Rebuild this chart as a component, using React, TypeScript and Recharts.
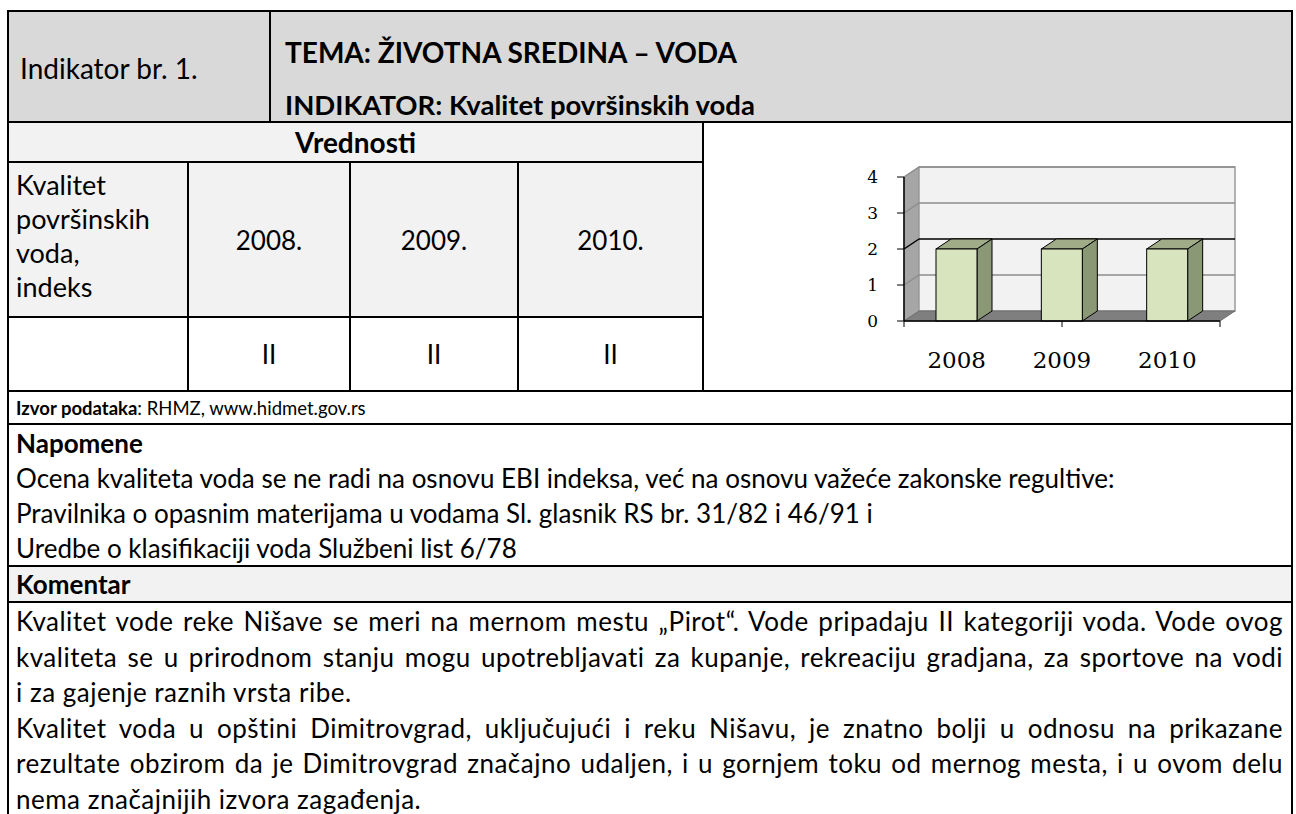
import React from 'react';
import { BarChart, Bar, XAxis, YAxis, CartesianGrid } from 'recharts';

// chart values
const years = ['2008', '2009', '2010'];
const qualityIndex = [2, 2, 2];
const yTicks = [0, 1, 2, 3, 4];
const bandEdges = [0, 1, 2, 3];
const gridValues = [0, 1, 2, 3, 4];
const gridColors = ['none', '#8c8c8c', '#000000', '#8c8c8c', '#8c8c8c'];

// table texts
const tableYears = ['2008.', '2009.', '2010.'];
const tableClasses = ['II', 'II', 'II'];
const rowLabel = ['Kvalitet', 'površinskih', 'voda,', 'indeks'];
const notes = [
    'Ocena kvaliteta voda se ne radi na osnovu EBI indeksa, već na osnovu važeće zakonske regultive:',
    'Pravilnika o opasnim materijama u vodama Sl. glasnik RS br. 31/82 i 46/91 i',
    'Uredbe o klasifikaciji voda Službeni list 6/78',
];
const commentLines = [
    'Kvalitet vode reke Nišave se meri na mernom mestu „Pirot“. Vode pripadaju II kategoriji voda. Vode ovog',
    'kvaliteta se u prirodnom stanju mogu upotrebljavati za kupanje, rekreaciju gradjana, za sportove na vodi',
    'i za gajenje raznih vrsta ribe.',
    'Kvalitet voda u opštini Dimitrovgrad, uključujući i reku Nišavu, je znatno bolji u odnosu na prikazane',
    'rezultate obzirom da je Dimitrovgrad značajno udaljen, i u gornjem toku od mernog mesta, i u ovom delu',
    'nema značajnijih izvora zagađenja.',
];
const lastOfParagraph = [false, false, true, false, false, true];

const chartData = years.map((y, i) => ({ year: y, value: qualityIndex[i] }));

const DX = 15;
const DY = -10;
const FONT = 'Lato, "Open Sans", sans-serif';
const SERIF = '"DejaVu Serif", serif';

// walls of the 3d plot box, drawn from the grid's plot rectangle
const walls = (x: number, y: number, w: number, h: number) => (
    <g>
        <polygon
            points={`${x},${y} ${x + DX},${y + DY} ${x + DX},${y + h + DY} ${x},${y + h}`}
            fill="#a6a6a6"
            stroke="#8c8c8c"
        />
        <rect x={x + DX} y={y + DY} width={w} height={h} fill="#f2f2f2" stroke="#9a9a9a" strokeWidth={1.5} />
        <polygon
            points={`${x},${y + h} ${x + DX},${y + h + DY} ${x + w + DX},${y + h + DY} ${x + w},${y + h}`}
            fill="#7f7f7f"
            stroke="#6f6f6f"
        />
    </g>
);

const gridLine = (p: any) => {
    const color = gridColors[p.index] ?? '#8c8c8c';
    return (
        <g key={p.key}>
            {p.index === 0 ? walls(p.x, p.y, p.width, p.height) : null}
            {color !== 'none' ? (
                <>
                    <line x1={p.x1} y1={p.y1} x2={p.x1 + DX} y2={p.y1 + DY} stroke={color} strokeWidth={1.5} />
                    <line x1={p.x1 + DX} y1={p.y1 + DY} x2={p.x2 + DX} y2={p.y2 + DY} stroke={color} strokeWidth={1.5} />
                </>
            ) : null}
        </g>
    );
};

const Box = (p: any) => {
    const { x, y, width: w, height: h } = p;
    return (
        <g>
            <polygon
                points={`${x},${y} ${x + DX},${y + DY} ${x + w + DX},${y + DY} ${x + w},${y}`}
                fill="#a0ab87"
                stroke="#000"
                strokeWidth={1}
            />
            <polygon
                points={`${x + w},${y} ${x + w + DX},${y + DY} ${x + w + DX},${y + h + DY} ${x + w},${y + h}`}
                fill="#8b9875"
                stroke="#000"
                strokeWidth={1}
            />
            <rect x={x} y={y} width={w} height={h} fill="#d7e4bd" stroke="#000" strokeWidth={1} />
        </g>
    );
};

const QualityChart = () => (
    <BarChart
        width={585}
        height={265}
        data={chartData}
        margin={{ top: 53, right: 70, bottom: 20, left: 139 }}
    >
        <CartesianGrid
            xAxisId="a_edge"
            vertical={false}
            horizontalValues={gridValues}
            horizontal={gridLine}
        />
        <XAxis
            xAxisId="a_edge"
            type="number"
            domain={[0, 3]}
            ticks={bandEdges}
            tickFormatter={() => ''}
            tickSize={6}
            height={8}
            axisLine={{ stroke: '#000', strokeWidth: 1.5 }}
            tickLine={{ stroke: '#000' }}
        />
        <XAxis
            xAxisId="b_cat"
            dataKey="year"
            height={40}
            tickSize={0}
            tickMargin={23}
            axisLine={false}
            tickLine={false}
            tick={{ fontFamily: SERIF, fontSize: 23, fill: '#000' }}
        />
        <YAxis
            domain={[0, 4]}
            ticks={yTicks}
            width={60}
            tickSize={7}
            tickMargin={19}
            axisLine={{ stroke: '#000', strokeWidth: 1.5 }}
            tickLine={{ stroke: '#000' }}
            tick={{ fontFamily: SERIF, fontSize: 17, fill: '#000' }}
        />
        <Bar xAxisId="b_cat" dataKey="value" barSize={41} shape={Box} isAnimationActive={false} />
    </BarChart>
);

const H = (x1: number, x2: number, y: number, w = 2) => (
    <div style={{ position: 'absolute', left: x1, top: y - w / 2, width: x2 - x1, height: w, background: '#000' }} />
);
const V = (x: number, y1: number, y2: number, w = 2) => (
    <div style={{ position: 'absolute', left: x - w / 2, top: y1, width: w, height: y2 - y1, background: '#000' }} />
);

const T = (props: { x: number; y: number; w?: number; size?: number; bold?: boolean; center?: boolean; children: React.ReactNode; lh?: number }) => (
    <div
        style={{
            position: 'absolute',
            left: props.x,
            top: props.y - (props.lh ?? 36) / 2,
            width: props.w,
            lineHeight: `${props.lh ?? 36}px`,
            fontSize: props.size ?? 26,
            fontWeight: props.bold ? 700 : 400,
            textAlign: props.center ? 'center' : 'left',
            whiteSpace: 'nowrap',
        }}
    >
        {props.children}
    </div>
);

const L = 8;
const R = 1292;
const TOP = 11;
const HEAD_B = 122;
const VRED_B = 162;
const YEAR_B = 317;
const VAL_B = 391;
const SRC_B = 424;
const NOTE_B = 566;
const COM_B = 602;
const colX = [8, 188, 350, 518, 703];

export default function App() {
    return (
        <div
            style={{
                position: 'absolute',
                left: 0,
                top: 0,
                width: 1296,
                height: 814,
                overflow: 'hidden',
                background: '#fff',
                fontFamily: FONT,
                color: '#000',
            }}
        >
            {/* backgrounds */}
            <div style={{ position: 'absolute', left: L, top: TOP, width: R - L, height: HEAD_B - TOP, background: '#d9d9d9' }} />
            <div style={{ position: 'absolute', left: L, top: HEAD_B, width: 703 - L, height: YEAR_B - HEAD_B, background: '#f2f2f2' }} />
            <div style={{ position: 'absolute', left: L, top: NOTE_B, width: R - L, height: COM_B - NOTE_B, background: '#f2f2f2' }} />

            {/* chart */}
            <div style={{ position: 'absolute', left: 705, top: 124 }}>
                <QualityChart />
            </div>

            {/* lines */}
            {H(L - 1, R + 1, TOP)}
            {H(L, R, HEAD_B)}
            {H(L, 703, VRED_B)}
            {H(L, 703, YEAR_B)}
            {H(L, R, VAL_B)}
            {H(L, R, SRC_B)}
            {H(L, R, NOTE_B)}
            {H(L, R, COM_B)}
            {V(L, TOP, 814)}
            {V(R, TOP, 814)}
            {V(270, TOP, HEAD_B)}
            {V(703, HEAD_B, VAL_B)}
            {colX.slice(1, 4).map(x => (
                <React.Fragment key={x}>{V(x, VRED_B, VAL_B)}</React.Fragment>
            ))}

            {/* header */}
            <T x={20} y={68} size={28}>Indikator br. 1.</T>
            <T x={285} y={52} size={28} bold>TEMA: ŽIVOTNA SREDINA – VODA</T>
            <T x={285} y={105} size={27.5} bold>INDIKATOR: Kvalitet površinskih voda</T>

            {/* values table */}
            <T x={L} y={(HEAD_B + VRED_B) / 2} w={703 - L} size={28} bold center>Vrednosti</T>
            {rowLabel.map((s, i) => (
                <T key={s} x={16} y={185 + i * 34} size={27} lh={34}>{s}</T>
            ))}
            {tableYears.map((s, i) => (
                <T key={s} x={colX[i + 1]} y={(VRED_B + YEAR_B) / 2} w={colX[i + 2] - colX[i + 1]} size={26} center>{s}</T>
            ))}
            {tableClasses.map((s, i) => (
                <T key={i} x={colX[i + 1]} y={(YEAR_B + VAL_B) / 2} w={colX[i + 2] - colX[i + 1]} size={26} center>{s}</T>
            ))}

            {/* source */}
            <T x={16} y={(VAL_B + SRC_B) / 2} size={18.5} lh={30}>
                <b>Izvor podataka</b>: RHMZ, www.hidmet.gov.rs
            </T>

            {/* notes */}
            <T x={16} y={443} bold>Napomene</T>
            {notes.map((s, i) => (
                <T key={i} x={16} y={478 + i * 35}>{s}</T>
            ))}

            {/* comment */}
            <T x={16} y={(NOTE_B + COM_B) / 2} bold>Komentar</T>
            {commentLines.map((s, i) => (
                <div
                    key={i}
                    style={{
                        position: 'absolute',
                        left: 16,
                        top: 604 + i * 35.5,
                        width: 1267,
                        lineHeight: '35px',
                        fontSize: 26,
                        letterSpacing: 0.5,
                        textAlign: 'justify',
                        textAlignLast: lastOfParagraph[i] ? 'left' : 'justify',
                        whiteSpace: 'nowrap',
                    }}
                >
                    {s}
                </div>
            ))}
        </div>
    );
}
